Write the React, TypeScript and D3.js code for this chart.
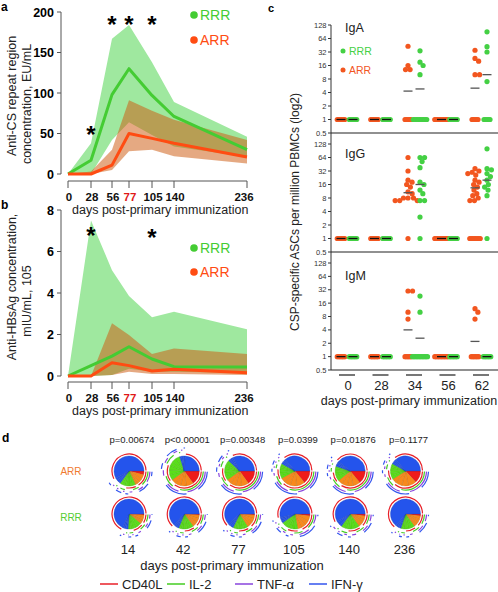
import React from "react";
import * as d3 from "d3";

const FONT = "'Liberation Sans', Arial, Helvetica, sans-serif";

// ---------------- Panel a & b data ----------------
const days = [0, 28, 56, 77, 105, 140, 236];
const dayLabels = ["0", "28", "56", "77", "105", "140", "236"];

const csTicks = [0, 50, 100, 150, 200];
const csRRRmed = [0, 17, 98, 130, 97, 71, 30];
const csRRRhi = [0, 38, 167, 184, 138, 89, 46];
const csRRRlo = [0, 0, 42, 64, 48, 34, 21];
const csARRmed = [0, 0, 11, 50, 44, 38, 21];
const csARRhi = [0, 3, 30, 91, 78, 67, 42];
const csARRlo = [0, 0, 5, 28, 30, 22, 13];
const csStarDays = [28, 56, 77, 105];
const csStarVals = [54, 190, 190, 190];

const hbTicks = [0, 2, 4, 6, 8];
const hbRRRmed = [0, 0.5, 0.96, 1.41, 0.82, 0.45, 0.43];
const hbRRRhi = [0, 7.5, 5.1, 3.85, 2.83, 3.1, 2.25];
const hbRRRlo = [0, 0, 0.05, 0.35, 0.2, 0.2, 0.15];
const hbARRmed = [0, 0, 0.64, 0.5, 0.24, 0.32, 0.16];
const hbARRhi = [0, 0, 2.54, 1.98, 1.06, 1.33, 1.06];
const hbARRlo = [0, 0, 0.05, 0.2, 0.1, 0.1, 0.05];
const hbStarDays = [28, 105];
const hbStarVals = [7.0, 6.9];

// ---------------- Panel c data ----------------
const ascDays = ["0", "28", "34", "56", "62"];
const ascTicks = [0.5, 1, 2, 4, 8, 16, 32, 64, 128];
const ascTickLabels = ["0.5", "1", "2", "4", "8", "16", "32", "64", "128"];
const isotypes = ["IgA", "IgG", "IgM"];

const igaARR = [
  [1, 1, 1, 1, 1, 1],
  [1, 1, 1, 1, 1, 1],
  [43, 16, 13, 13, 1, 1, 1, 1, 1],
  [1, 1, 1, 1, 1, 1, 1, 1, 1, 1],
  [35, 23, 20, 10, 10, 1, 1, 1, 1, 1],
];
const igaRRR = [
  [1, 1, 1, 1, 1, 1],
  [1, 1, 1, 1, 1, 1],
  [34, 19, 16, 10, 1, 1, 1, 1, 1, 1, 1, 1, 1, 1],
  [1, 1, 1, 1, 1, 1],
  [90, 42, 32, 7, 1, 1, 1, 1, 1],
];
const igaARRmed = [1, 1, 4.3, 1, 5];
const igaRRRmed = [1, 1, 4.8, 1, 10];

const iggARR = [
  [1, 1, 1, 1, 1, 1],
  [1, 1, 1, 1, 1, 1],
  [64, 32, 20, 18, 16, 14, 11, 10, 8, 8, 8, 7, 7, 7, 1],
  [1, 1, 1, 1, 1, 1, 1, 1, 1, 1],
  [36, 32, 30, 28, 26, 20, 18, 16, 14, 12, 10, 9, 8, 7, 7, 1, 1, 1, 1, 1, 1, 1, 1],
];
const iggRRR = [
  [1, 1, 1, 1, 1, 1],
  [1, 1, 1, 1, 1, 1],
  [64, 64, 52, 38, 18, 16, 12, 10, 7, 7, 3, 1],
  [1, 1, 1, 1, 1, 1],
  [100, 36, 34, 28, 24, 20, 16, 14, 12, 9, 1],
];
const iggARRmed = [1, 1, 10.5, 1, 13.5];
const iggRRRmed = [1, 1, 16, 1, 20];

const igmARR = [
  [1, 1, 1, 1, 1, 1],
  [1, 1, 1, 1, 1, 1],
  [30, 30, 10, 7, 1, 1, 1, 1, 1],
  [1, 1, 1, 1, 1, 1, 1, 1, 1, 1],
  [12, 10, 7, 1, 1, 1, 1, 1, 1],
];
const igmRRR = [
  [1, 1, 1, 1, 1, 1],
  [1, 1, 1, 1, 1, 1],
  [23, 10, 1, 1, 1, 1, 1, 1, 1, 1, 1, 1, 1],
  [1, 1, 1, 1, 1, 1],
  [1, 1, 1, 1, 1, 1],
];
const igmARRmed = [1, 1, 4, 1, 2.2];
const igmRRRmed = [1, 1, 2.6, 1, 1];

// ---------------- Panel d data ----------------
const pieDays = ["14", "42", "77", "105", "140", "236"];
const pValues = ["p=0.00674", "p<0.00001", "p=0.00348", "p=0.0399", "p=0.01876", "p=0.1177"];
const cytokines = ["CD40L", "IL-2", "TNF-α", "IFN-γ"];
const cytoLetters = ["C", "I", "T", "F"];
const subsets = ["CITF", "CIT", "CIF", "CTF", "ITF", "CI", "CT", "CF", "IT", "IF", "TF", "I", "T", "F", "C"];
const pieARR = [
  [4, 5, 4, 3, 2, 4, 3, 3, 2, 3, 2, 2, 2, 3, 58],
  [15, 8, 6, 6, 5, 6, 5, 5, 5, 5, 4, 2, 2, 2, 24],
  [15, 8, 6, 6, 5, 5, 4, 4, 3, 3, 3, 2, 2, 2, 32],
  [14, 9, 7, 7, 5, 4, 3, 3, 2, 2, 2, 2, 2, 2, 36],
  [14, 8, 6, 6, 5, 4, 3, 3, 2, 2, 2, 2, 2, 2, 39],
  [13, 9, 7, 7, 5, 4, 3, 3, 3, 2, 2, 2, 2, 2, 36],
];
const pieRRR = [
  [1, 3, 3, 2, 2, 4, 3, 3, 2, 2, 1, 2, 2, 2, 68],
  [1, 4, 4, 3, 3, 4, 3, 3, 2, 2, 2, 2, 2, 2, 63],
  [1, 4, 4, 4, 3, 4, 3, 3, 2, 2, 2, 2, 2, 2, 62],
  [2, 6, 5, 5, 4, 4, 3, 3, 3, 3, 2, 2, 2, 2, 54],
  [2, 4, 3, 3, 3, 5, 4, 3, 3, 3, 2, 2, 3, 2, 58],
  [2, 4, 3, 3, 3, 4, 3, 3, 2, 2, 1, 2, 2, 2, 64],
];

// ---------------- styles ----------------
const GREEN = "#44cc33";
const ORANGE = "#ff4c12";
const GREEN_BAND = "#9fe89f";
const ORANGE_BAND = "rgb(205,90,15)";
const DOT_ARR = "#f2561f";
const DOT_RRR = "#44d044";
const cytoColors = ["#e82028", "#44cc22", "#8844dd", "#3355ee"];
const funcColors: Record<number, string> = { 4: "#ee1b1b", 3: "#f7891c", 2: "#5ade1a", 1: "#2454ec" };

function swarm(vals: number[], y: (v: number) => number, r: number) {
  const ones = vals.filter((v) => v === 1);
  const rest = vals.filter((v) => v !== 1).sort((a, b) => b - a);
  const placed: { dx: number; y: number }[] = [];
  const D = r * 1.75;
  for (const v of rest) {
    const yy = y(v);
    const cands = [0];
    for (const p of placed) {
      const dy = Math.abs(p.y - yy);
      if (dy < D) {
        const h = Math.sqrt(D * D - dy * dy);
        cands.push(p.dx + h, p.dx - h);
      }
    }
    cands.sort((a, b) => Math.abs(a) - Math.abs(b));
    let best = 0;
    for (const c of cands) {
      if (placed.every((p) => (p.dx - c) ** 2 + (p.y - yy) ** 2 >= D * D - 0.01)) {
        best = c;
        break;
      }
    }
    placed.push({ dx: best, y: yy });
  }
  const n = ones.length;
  ones.forEach((_, i) => placed.push({ dx: n > 1 ? (i - (n - 1) / 2) * 1.5 : 0, y: y(1) }));
  return placed;
}

function LinePanel(props: {
  y: d3.ScaleLinear<number, number>;
  ticks: number[];
  rrr: number[][];
  arr: number[][];
  stars: [number[], number[]];
  axisY: number;
  label: string;
  legendY: number[];
  titleLines: { text: string; x: number; y: number }[];
}) {
  const { y, ticks, rrr, arr, stars, axisY, label, legendY, titleLines } = props;
  const x = d3.scaleLinear().domain(days).range([68, 91, 112, 129, 152, 174, 247]);
  const area = (hi: number[], lo: number[]) =>
    d3
      .area<number>()
      .x((_, i) => x(days[i]))
      .y0((_, i) => y(lo[i]))
      .y1((_, i) => y(hi[i]))(days) || "";
  const line = (m: number[]) =>
    d3
      .line<number>()
      .x((_, i) => x(days[i]))
      .y((_, i) => y(m[i]))(days) || "";
  const [y0, y1] = y.range();
  const top = y(ticks[ticks.length - 1]);
  return (
    <g>
      <text x={1} y={y1 - 1} fontFamily={FONT} fontWeight="bold" fontSize={12}>
        {label}
      </text>
      {titleLines.map((t, i) => (
        <text
          key={i}
          transform={`translate(${t.x},${t.y}) rotate(-90)`}
          textAnchor="middle"
          fontFamily={FONT}
          fontSize={12.5}
          fill="#222"
        >
          {t.text}
        </text>
      ))}
      <path d={area(rrr[1], rrr[2])} fill={GREEN_BAND} />
      <path d={area(arr[1], arr[2])} fill={ORANGE_BAND} fillOpacity={0.52} />
      <path d={line(rrr[0])} fill="none" stroke={GREEN} strokeWidth={3} strokeLinejoin="round" />
      <path d={line(arr[0])} fill="none" stroke={ORANGE} strokeWidth={3} strokeLinejoin="round" />
      {/* y axis */}
      <line x1={61} x2={61} y1={y0} y2={top} stroke="#555" strokeWidth={1} />
      {ticks.map((t) => (
        <g key={t}>
          <line x1={57} x2={61} y1={y(t)} y2={y(t)} stroke="#555" />
          <text x={54} y={y(t) + 4.5} textAnchor="end" fontFamily={FONT} fontWeight="bold" fontSize={12.5}>
            {t}
          </text>
        </g>
      ))}
      {/* x axis */}
      <line x1={x(0)} x2={x(236)} y1={axisY} y2={axisY} stroke="#555" />
      {days.map((d, i) => (
        <g key={d}>
          <line x1={x(d)} x2={x(d)} y1={axisY} y2={axisY + 7} stroke="#555" />
          <text
            x={x(d) + (d === 236 ? -3 : 1)}
            y={axisY + 20}
            textAnchor="middle"
            fontFamily={FONT}
            fontWeight="bold"
            fontSize={11.5}
            fill={d === 77 ? "#e01818" : "#111"}
          >
            {dayLabels[i]}
          </text>
        </g>
      ))}
      <text x={72} y={axisY + 33} fontFamily={FONT} fontSize={12.5} fill="#222">
        days post-primary immunization
      </text>
      {/* stars */}
      {stars[0].map((d, i) => (
        <text
          key={d}
          x={x(d)}
          y={y(stars[1][i]) + 13}
          textAnchor="middle"
          fontFamily={FONT}
          fontWeight="bold"
          fontSize={24}
        >
          *
        </text>
      ))}
      {/* legend */}
      <circle cx={194} cy={legendY[0]} r={3.8} fill={GREEN} />
      <text x={200} y={legendY[0] + 5} fontFamily={FONT} fontSize={14} fill={GREEN}>
        RRR
      </text>
      <circle cx={194} cy={legendY[1]} r={3.8} fill={ORANGE} />
      <text x={200} y={legendY[1] + 5} fontFamily={FONT} fontSize={14} fill={ORANGE}>
        ARR
      </text>
    </g>
  );
}

export default function App() {
  const yA = d3.scaleLinear().domain([0, 200]).range([174, 12]);
  const yB = d3.scaleLinear().domain([0, 8]).range([376, 210]);

  // panel c
  const cx = d3.scalePoint<string>().domain(ascDays).range([347, 481]);
  const yRanges = [
    [133, 25],
    [252, 144],
    [370, 263],
  ];
  const cData = [
    [igaARR, igaRRR, igaARRmed, igaRRRmed],
    [iggARR, iggRRR, iggARRmed, iggRRRmed],
    [igmARR, igmRRR, igmARRmed, igmRRRmed],
  ] as [number[][], number[][], number[], number[]][];
  const labelY = [32, 158, 280];

  // panel d
  const px = d3.scalePoint<string>().domain(pieDays).range([129, 405.5]);
  const rowY = [471, 514];
  const R = 15;
  const pie = d3
    .pie<number>()
    .sort(null)
    .startAngle(Math.PI / 2)
    .endAngle(Math.PI / 2 + 2 * Math.PI);
  const arcGen = d3.arc<d3.PieArcDatum<number>>().innerRadius(0).outerRadius(R);

  const renderPie = (vals: number[], key: string) => {
    const arcs = pie(vals);
    const rings: JSX.Element[] = [];
    cytoLetters.forEach((L, k) => {
      const rad = R + 2 + 2 * k;
      let start: number | null = null;
      let end = 0;
      const flush = () => {
        if (start !== null) {
          const g = Math.min(0.03, (end - start) / 4);
          const p = d3.path();
          p.arc(0, 0, rad, start + g - Math.PI / 2, end - g - Math.PI / 2);
          rings.push(
            <path key={`${key}-${k}-${start}`} d={p.toString()} fill="none" stroke={cytoColors[k]} strokeWidth={1.2} />
          );
        }
        start = null;
      };
      arcs.forEach((a, i) => {
        if (subsets[i].includes(L) && a.endAngle > a.startAngle) {
          if (start === null) start = a.startAngle;
          end = a.endAngle;
        } else flush();
      });
      flush();
    });
    return (
      <g key={key}>
        {arcs.map((a, i) => {
          const f = funcColors[subsets[i].length];
          return (
            <path
              key={i}
              d={arcGen(a) || ""}
              fill={f}
              stroke={d3.color(f)!.darker(0.7).toString()}
              strokeWidth={0.35}
            />
          );
        })}
        {rings}
      </g>
    );
  };

  return (
    <svg
      width={498}
      height={592}
      style={{ position: "absolute", left: 0, top: 0, background: "#fff" }}
      fontFamily={FONT}
    >
      <rect width={498} height={592} fill="#fff" />
      <LinePanel
        y={yA}
        ticks={csTicks}
        rrr={[csRRRmed, csRRRhi, csRRRlo]}
        arr={[csARRmed, csARRhi, csARRlo]}
        stars={[csStarDays, csStarVals]}
        axisY={181}
        label="a"
        legendY={[15, 40]}
        titleLines={[
          { text: "Anti-CS repeat region", x: 16, y: 96 },
          { text: "concentration, EU/mL", x: 31, y: 104 },
        ]}
      />
      <LinePanel
        y={yB}
        ticks={hbTicks}
        rrr={[hbRRRmed, hbRRRhi, hbRRRlo]}
        arr={[hbARRmed, hbARRhi, hbARRlo]}
        stars={[hbStarDays, hbStarVals]}
        axisY={382}
        label="b"
        legendY={[248, 272]}
        titleLines={[
          { text: "Anti-HBsAg concentration,", x: 16, y: 287 },
          { text: "mIU/mL, 105", x: 31, y: 301 },
        ]}
      />

      {/* ---------------- panel c ---------------- */}
      <text x={268} y={12} fontFamily={FONT} fontWeight="bold" fontSize={11}>
        c
      </text>
      <text
        transform={`translate(299,212) rotate(-90)`}
        textAnchor="middle"
        fontFamily={FONT}
        fontSize={12}
        fill="#222"
      >
        CSP-specific ASCs per million PBMCs (log2)
      </text>
      <line x1={331} x2={331} y1={25} y2={370} stroke="#333" />
      {isotypes.map((iso, pi) => {
        const y = d3.scaleLog().base(2).domain([0.5, 128]).range(yRanges[pi]);
        const [arrVals, rrrVals, arrMed, rrrMed] = cData[pi];
        return (
          <g key={iso}>
            <line x1={331} x2={498} y1={y(0.5)} y2={y(0.5)} stroke="#222" strokeWidth={1.2} />
            {ascTicks.map((t, i) => (
              <g key={t}>
                <line x1={328} x2={331} y1={y(t)} y2={y(t)} stroke="#333" />
                <text x={326.5} y={y(t) + 2.6} textAnchor="end" fontFamily={FONT} fontSize={7.5} fill="#333">
                  {ascTickLabels[i]}
                </text>
              </g>
            ))}
            <text x={345} y={labelY[pi]} fontFamily={FONT} fontSize={12.5} fill="#222">
              {iso}
            </text>
            {ascDays.map((d, di) => {
              const cols: [number[], number, string, number][] = [
                [arrVals[di], -6, DOT_ARR, arrMed[di]],
                [rrrVals[di], 6, DOT_RRR, rrrMed[di]],
              ];
              return (
                <g key={d}>
                  {cols.map(([vals, off, col, med], ci) => {
                    const pts = swarm(vals, (v) => y(v), 2.6);
                    const cxx = (cx(d) as number) + off;
                    return (
                      <g key={ci}>
                        {pts.map((p, k) => (
                          <circle key={k} cx={cxx + p.dx} cy={p.y} r={2.6} fill={col} />
                        ))}
                        <line
                          x1={cxx - 4.5}
                          x2={cxx + 4.5}
                          y1={y(med)}
                          y2={y(med)}
                          stroke={med === 1 ? "#111" : "#555"}
                          strokeWidth={1.3}
                        />
                      </g>
                    );
                  })}
                </g>
              );
            })}
          </g>
        );
      })}
      {/* legend c */}
      <circle cx={343} cy={51} r={2.5} fill={DOT_RRR} />
      <text x={349} y={55} fontFamily={FONT} fontSize={10.5} fill={DOT_RRR}>
        RRR
      </text>
      <circle cx={343} cy={70} r={2.5} fill={DOT_ARR} />
      <text x={349} y={74} fontFamily={FONT} fontSize={10.5} fill={DOT_ARR}>
        ARR
      </text>
      {ascDays.map((d) => (
        <g key={d}>
          <line x1={(cx(d) as number) - 8} x2={(cx(d) as number) + 8} y1={375} y2={375} stroke="#555" strokeWidth={1.6} />
          <text x={(cx(d) as number) + 1} y={390} textAnchor="middle" fontFamily={FONT} fontSize={13} fill="#222">
            {d}
          </text>
        </g>
      ))}
      <text x={409} y={405} textAnchor="middle" fontFamily={FONT} fontSize={12.5} fill="#222">
        days post-primary immunization
      </text>

      {/* ---------------- panel d ---------------- */}
      <text x={2} y={442} fontFamily={FONT} fontWeight="bold" fontSize={12}>
        d
      </text>
      {pieDays.map((d, i) => (
        <g key={d}>
          <text x={(px(d) as number) + 3} y={443} textAnchor="middle" fontFamily={FONT} fontSize={9.5} fill="#222">
            {pValues[i]}
          </text>
          <g transform={`translate(${px(d)},${rowY[0]})`}>{renderPie(pieARR[i], `a${i}`)}</g>
          <g transform={`translate(${px(d)},${rowY[1]})`}>{renderPie(pieRRR[i], `r${i}`)}</g>
          <text x={(px(d) as number) - 1} y={554} textAnchor="middle" fontFamily={FONT} fontSize={13} fill="#222">
            {d}
          </text>
        </g>
      ))}
      <text x={71} y={474.5} textAnchor="middle" fontFamily={FONT} fontSize={10} fill="#f07a30">
        ARR
      </text>
      <text x={71} y={520.5} textAnchor="middle" fontFamily={FONT} fontSize={10} fill="#55cc33">
        RRR
      </text>
      <text x={232} y={570} textAnchor="middle" fontFamily={FONT} fontSize={13} fill="#222">
        days post-primary immunization
      </text>
      {cytokines.map((c, i) => {
        const lx = [100, 167, 235, 309][i];
        return (
          <g key={c}>
            <line x1={lx} x2={lx + 18} y1={584} y2={584} stroke={cytoColors[i]} strokeWidth={1.5} />
            <text x={lx + 22} y={588.5} fontFamily={FONT} fontSize={13} fill="#222">
              {c}
            </text>
          </g>
        );
      })}
    </svg>
  );
}
